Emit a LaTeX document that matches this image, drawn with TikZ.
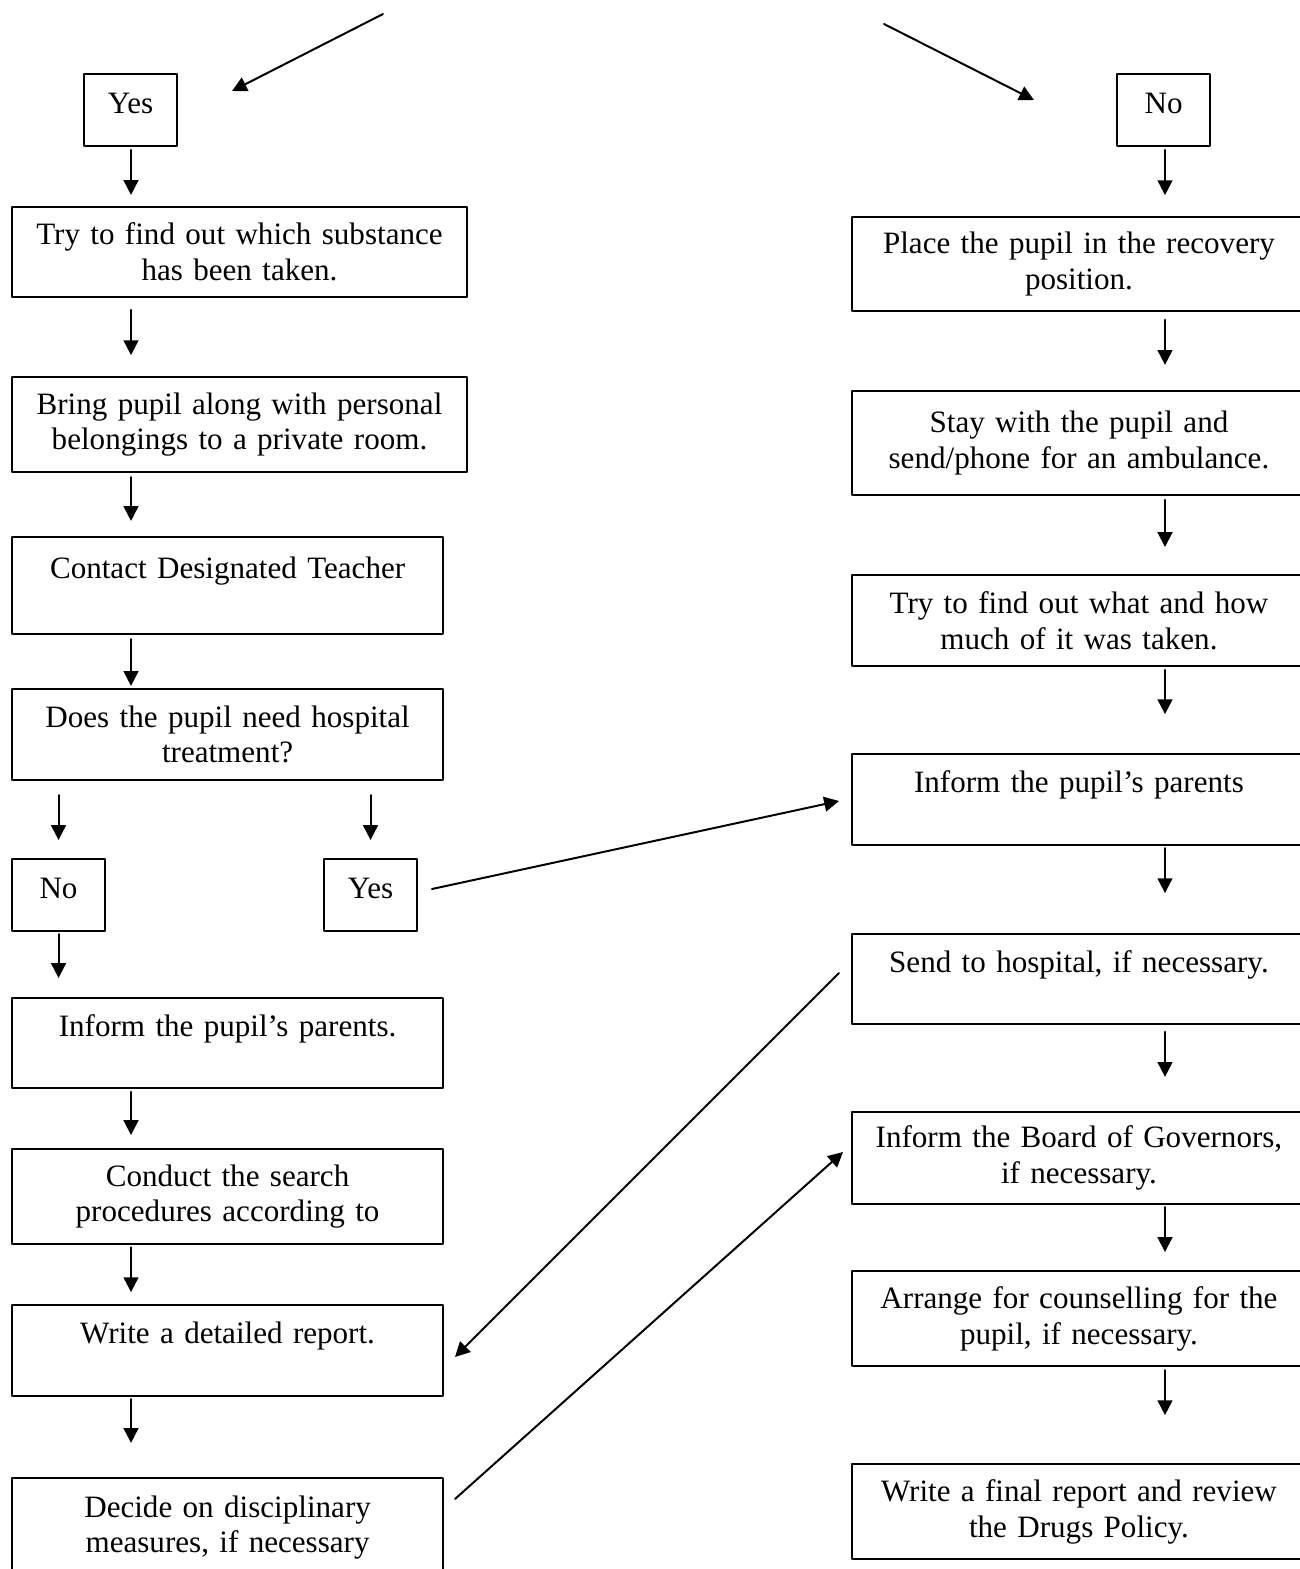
\documentclass[tikz,border=0pt]{standalone}
\usepackage{fontspec}
\setmainfont{Liberation Serif}
\usetikzlibrary{arrows.meta}

\tikzset{
  box/.style={draw,line width=0.75pt,inner sep=0pt,align=center,anchor=north west,font=\fontsize{11.75}{13.5}\selectfont},
  widebox/.style={box,text width=172pt},
  midbox/.style={box,text width=163pt},
  rightbox/.style={box,text width=171.6pt},
  answer/.style={box,text width=35.2pt,minimum height=27.2pt,text depth=5pt},
  flow/.style={->,line width=0.75pt}
}

\begin{document}
\begin{tikzpicture}[line cap=round,line join=round,>={Triangle[length=5.6pt,width=5.6pt]},x=0.378pt,y=-0.378pt]
		\useasboundingbox (0,0) rectangle (1300,1569);
		\clip (0,0) rectangle (1300,1569);
		\node[answer] (yesA) at (83,73) {Yes};
		\node[widebox,minimum height=34pt] (find) at (11,206) {Try to find out which substance\\has been taken.};
		\node[widebox,minimum height=36pt] (bring) at (11,376) {Bring pupil along with personal\\belongings to a private room.};
		\node[midbox,minimum height=36.7pt] (contact) at (11,536) {Contact Designated Teacher\\\mbox{}};
		\node[midbox,minimum height=34.4pt] (hospital) at (11,688) {Does the pupil need hospital\\treatment?};
		\node[answer] (noB) at (11,858) {No};
		\node[answer] (yesB) at (323,858) {Yes};
		\node[midbox,minimum height=34pt] (informL) at (11,997) {Inform the pupil's parents.\\\mbox{}};
		\node[midbox,minimum height=36pt] (search) at (11,1148) {Conduct the search\\procedures according to};
		\node[midbox,minimum height=34.4pt] (report) at (11,1304) {Write a detailed report.\\\mbox{}};
		\node[midbox,minimum height=37.5pt] (decide) at (11,1477) {Decide on disciplinary\\measures, if necessary};
		\node[answer] (noA) at (1116,73) {No};
		\node[rightbox,minimum height=35.5pt] (recovery) at (851,216) {Place the pupil in the recovery\\position.};
		\node[rightbox,minimum height=39.3pt] (stay) at (851,390) {Stay with the pupil and\\send/phone for an ambulance.};
		\node[rightbox,minimum height=34.4pt] (what) at (851,574) {Try to find out what and how\\much of it was taken.};
		\node[rightbox,minimum height=34.4pt] (informR) at (851,753) {Inform the pupil's parents\\\mbox{}};
		\node[rightbox,minimum height=34pt] (send) at (851,933) {Send to hospital, if necessary.\\\mbox{}};
		\node[rightbox,minimum height=34.8pt] (board) at (851,1111) {Inform the Board of Governors,\\if necessary.};
		\node[rightbox,minimum height=36pt] (counsel) at (851,1270) {Arrange for counselling for the\\pupil, if necessary.};
		\node[rightbox,minimum height=36pt] (final) at (851,1463) {Write a final report and review\\the Drugs Policy.};
		\coordinate (lcol) at (131,0);
		\coordinate (rcol) at (1165,0);
		\coordinate (topL) at (383,14);
		\coordinate (topLtip) at (232,91);
		\coordinate (topR) at (884,24);
		\coordinate (topRtip) at (1034,100);
		\coordinate (yesOut) at (432,889);
		\coordinate (informIn) at (839,801);
		\coordinate (sendOut) at (839,973);
		\coordinate (reportIn) at (455,1357);
		\coordinate (decideOut) at (455,1499);
		\coordinate (boardIn) at (843,1152);
		\draw[flow] (topL) -- (topLtip);
		\draw[flow] (topR) -- (topRtip);
		\draw[flow,shorten <=1.1pt,shorten >=4.2pt] (yesA.south -| lcol) -- (find.north -| lcol);
		\draw[flow,shorten <=4.5pt,shorten >=7.9pt] (find.south -| lcol) -- (bring.north -| lcol);
		\draw[flow,shorten <=1.5pt,shorten >=5.7pt] (bring.south -| lcol) -- (contact.north -| lcol);
		\draw[flow,shorten <=1.5pt,shorten >=0.8pt] (contact.south -| lcol) -- (hospital.north -| lcol);
		\draw[flow,shorten <=5.3pt,shorten >=6.8pt] (hospital.south -| noB.north) -- (noB.north);
		\draw[flow,shorten <=5.3pt,shorten >=6.8pt] (hospital.south -| yesB.north) -- (yesB.north);
		\draw[flow,shorten <=0.8pt,shorten >=7.2pt] (noB.south) -- (noB.south |- informL.north);
		\draw[flow,shorten <=1.1pt,shorten >=4.9pt] (informL.south -| lcol) -- (search.north -| lcol);
		\draw[flow,shorten <=0.8pt,shorten >=4.5pt] (search.south -| lcol) -- (report.north -| lcol);
		\draw[flow,shorten <=0.8pt,shorten >=12.9pt] (report.south -| lcol) -- (decide.north -| lcol);
		\draw[flow,shorten <=1.1pt,shorten >=7.9pt] (noA.south -| rcol) -- (recovery.north -| rcol);
		\draw[flow,shorten <=3pt,shorten >=9.5pt] (recovery.south -| rcol) -- (stay.north -| rcol);
		\draw[flow,shorten <=1.5pt,shorten >=10.2pt] (stay.south -| rcol) -- (what.north -| rcol);
		\draw[flow,shorten <=1.1pt,shorten >=14.7pt] (what.south -| rcol) -- (informR.north -| rcol);
		\draw[flow,shorten <=0.8pt,shorten >=15.1pt] (informR.south -| rcol) -- (send.north -| rcol);
		\draw[flow,shorten <=2.6pt,shorten >=12.9pt] (send.south -| rcol) -- (board.north -| rcol);
		\draw[flow,shorten <=0.8pt,shorten >=6.8pt] (board.south -| rcol) -- (counsel.north -| rcol);
		\draw[flow,shorten <=1.1pt,shorten >=18.1pt] (counsel.south -| rcol) -- (final.north -| rcol);
		\draw[flow] (yesOut) -- (informIn);
		\draw[flow] (sendOut) -- (reportIn);
		\draw[flow] (decideOut) -- (boardIn);
	\end{tikzpicture}
\end{document}
